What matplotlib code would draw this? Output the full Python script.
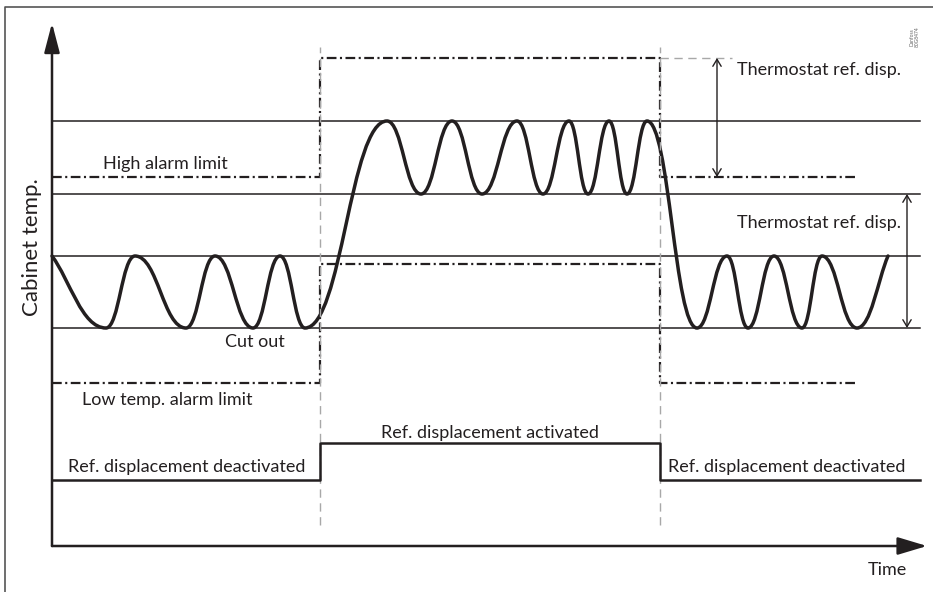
import matplotlib.pyplot as plt
from matplotlib.path import Path
from matplotlib.patches import PathPatch

# niveles de temperatura (unidades arbitrarias del esquema)
cut_out = 21.8
cut_in = 29.0
cut_out_disp = 35.2
cut_in_disp = 42.5
high_alarm = 36.9
high_alarm_disp = 48.8
low_alarm = 16.3
low_alarm_disp = 28.2
signal_off = 6.6
signal_on = 10.3

# tiempos
t_on = 26.8
t_off = 60.8
t_alarm_end = 80.3
t_line_end = 86.8

# curva de temperatura del armario: extremos (tiempo, temperatura)
curve_t = [0.0, 5.4, 8.3, 13.4, 16.3, 20.1, 22.8, 25.3,
           33.5, 36.9, 40.0, 43.0, 46.5, 49.1, 51.7, 53.6, 55.7, 57.5, 59.5,
           64.5, 67.5, 69.6, 72.2, 75.0, 77.0, 80.5, 83.6]
curve_temp = [cut_in, cut_out, cut_in, cut_out, cut_in, cut_out, cut_in, cut_out,
              cut_in_disp, cut_out_disp, cut_in_disp, cut_out_disp, cut_in_disp,
              cut_out_disp, cut_in_disp, cut_out_disp, cut_in_disp, cut_out_disp,
              cut_in_disp,
              cut_out, cut_in, cut_out, cut_in, cut_out, cut_in, cut_out, cut_in]

ink = "#231f20"
grey = "#a8a8a8"
plt.rcParams["font.family"] = ["Lato", "DejaVu Sans"]
plt.rcParams["lines.scale_dashes"] = False

fig = plt.figure(figsize=(9.33, 5.92), dpi=100)
ax = fig.add_axes([0, 0, 1, 1])
ax.set_xlim(-5.2, 88.1)
ax.set_ylim(-4.6, 54.6)
ax.axis("off")

# marco de la figura
ax.plot([-4.75, -4.75, 93], [-10, 53.9, 53.9], color="#555555", lw=1.2, clip_on=False)

# lineas de termostato
for lvl in [cut_in_disp, cut_out_disp, cut_in, cut_out]:
    ax.plot([0, t_line_end], [lvl, lvl], color=ink, lw=1.1)

# limites de alarma (raya-punto)
dashdot = (0, (7, 2.5, 1.5, 2.5))
ax.plot([0, t_on, t_on, t_off, t_off, t_alarm_end],
        [high_alarm, high_alarm, high_alarm_disp, high_alarm_disp, high_alarm, high_alarm],
        color=ink, lw=1.6, linestyle=dashdot)
ax.plot([0, t_on, t_on, t_off, t_off, t_alarm_end],
        [low_alarm, low_alarm, low_alarm_disp, low_alarm_disp, low_alarm, low_alarm],
        color=ink, lw=1.6, linestyle=dashdot)

# guias grises
for tx in [t_on, t_off]:
    ax.plot([tx, tx], [2.1, 49.9], color=grey, lw=1.0, linestyle=(0, (6, 4)))
ax.plot([t_off, 68.0], [high_alarm_disp, high_alarm_disp], color=grey, lw=1.0,
        linestyle=(0, (6, 4)))

# senal de desplazamiento
ax.plot([0, t_on, t_on, t_off, t_off, t_line_end],
        [signal_off, signal_off, signal_on, signal_on, signal_off, signal_off],
        color=ink, lw=1.8)

# curva suave entre extremos con bezier
k = 0.45
verts = [(curve_t[0], curve_temp[0])]
codes = [Path.MOVETO]
n = len(curve_t)
for i in range(n - 1):
    t0, y0 = curve_t[i], curve_temp[i]
    t1, y1 = curve_t[i + 1], curve_temp[i + 1]
    dx = t1 - t0
    if i == 0:
        c1 = (t0 + dx / 3, y0 + (y1 - y0) / 3)
    else:
        c1 = (t0 + k * dx, y0)
    if i == n - 2:
        c2 = (t1 - dx / 3, y1 - (y1 - y0) / 3)
    else:
        c2 = (t1 - k * dx, y1)
    verts += [c1, c2, (t1, y1)]
    codes += [Path.CURVE4] * 3
ax.add_patch(PathPatch(Path(verts, codes), facecolor="none", edgecolor=ink,
                       lw=2.5, capstyle="round", joinstyle="round"))

# ejes con flechas
ax.annotate("", xy=(0, 52.3), xytext=(0, 0),
            arrowprops=dict(arrowstyle="-|>,head_length=18,head_width=4.7",
                            mutation_scale=1, color=ink, lw=1.8,
                            shrinkA=0, shrinkB=0))
ax.annotate("", xy=(87.5, 0), xytext=(0, 0),
            arrowprops=dict(arrowstyle="-|>,head_length=18,head_width=5.4",
                            mutation_scale=1, color=ink, lw=1.8,
                            shrinkA=0, shrinkB=0))

# flechas dobles de desplazamiento
ax.annotate("", xy=(66.5, high_alarm_disp), xytext=(66.5, high_alarm),
            arrowprops=dict(arrowstyle="<->,head_length=5,head_width=3",
                            mutation_scale=1, color=ink, lw=1.0,
                            shrinkA=0, shrinkB=0))
ax.annotate("", xy=(85.5, cut_out_disp), xytext=(85.5, cut_out),
            arrowprops=dict(arrowstyle="<->,head_length=5,head_width=3",
                            mutation_scale=1, color=ink, lw=1.0,
                            shrinkA=0, shrinkB=0))

# textos
fs = 13
ax.text(68.5, 47.1, "Thermostat ref. disp.", fontsize=fs, color=ink, va="baseline")
ax.text(68.5, 31.8, "Thermostat ref. disp.", fontsize=fs, color=ink, va="baseline")
ax.text(5.1, 37.7, "High alarm limit", fontsize=fs, color=ink, va="baseline")
ax.text(17.3, 19.9, "Cut out", fontsize=fs, color=ink, va="baseline")
ax.text(3.0, 14.1, "Low temp. alarm limit", fontsize=fs, color=ink, va="baseline")
ax.text(1.6, 7.4, "Ref. displacement deactivated", fontsize=fs, color=ink, va="baseline")
ax.text(61.6, 7.4, "Ref. displacement deactivated", fontsize=fs, color=ink, va="baseline")
ax.text((t_on + t_off) / 2, 10.8, "Ref. displacement activated", fontsize=fs,
        color=ink, va="baseline", ha="center")
ax.text(85.5, -2.9, "Time", fontsize=fs, color=ink, va="baseline", ha="right")
ax.text(-2.0, 29.9, "Cabinet temp.", fontsize=16, color=ink, rotation=90,
        ha="center", va="center")
ax.text(86.3, 50.9, "Danfoss\n80G8474", fontsize=3.5, color="#666666", rotation=90,
        ha="center", va="center", linespacing=1.0)

fig.savefig("out.png", dpi=100)
